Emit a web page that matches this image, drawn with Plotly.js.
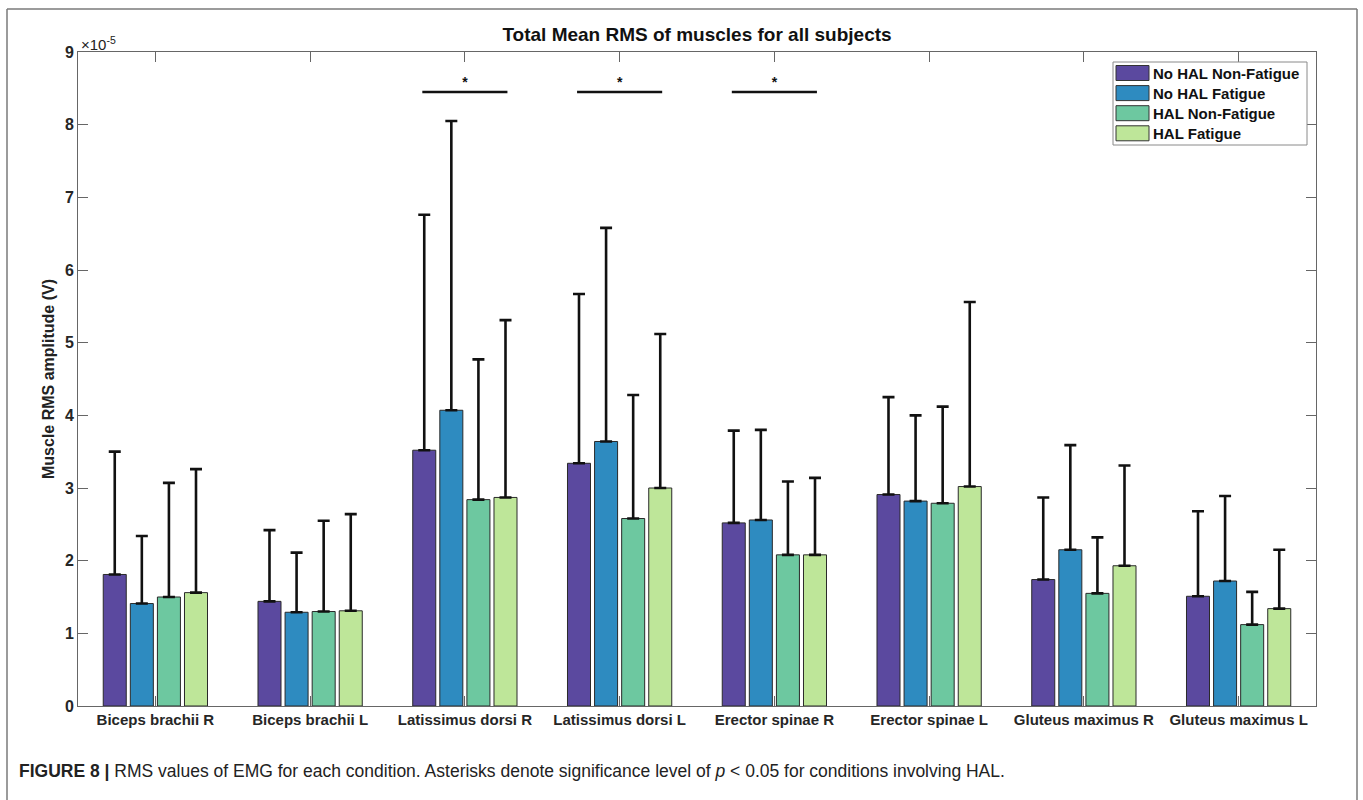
<!DOCTYPE html>
<html>
<head>
<meta charset="utf-8">
<script src="https://cdn.plot.ly/plotly-3.0.1.min.js"></script>
<style>
  html, body { margin: 0; padding: 0; background: #fff; }
  #chart { width: 1363px; height: 800px; }
</style>
</head>
<body>
<div id="chart"></div>
<script>
// ---- Data (values in units of 1e-5 V) ----
const categories = ['Biceps brachii R', 'Biceps brachii L', 'Latissimus dorsi R', 'Latissimus dorsi L',
                    'Erector spinae R', 'Erector spinae L', 'Gluteus maximus R', 'Gluteus maximus L'];
const seriesNames = ['No HAL Non-Fatigue', 'No HAL Fatigue', 'HAL Non-Fatigue', 'HAL Fatigue'];
const seriesColors = ['#5B499F', '#2E8BC0', '#6DC8A0', '#BEE699'];

const noHalNonFatigue    = [1.81, 1.44, 3.52, 3.34, 2.52, 2.91, 1.74, 1.51];
const noHalNonFatigueSD  = [1.69, 0.98, 3.24, 2.33, 1.27, 1.34, 1.13, 1.17];
const noHalFatigue       = [1.41, 1.29, 4.07, 3.64, 2.56, 2.82, 2.15, 1.72];
const noHalFatigueSD     = [0.93, 0.82, 3.98, 2.94, 1.24, 1.18, 1.44, 1.17];
const halNonFatigue      = [1.50, 1.30, 2.84, 2.58, 2.08, 2.79, 1.55, 1.12];
const halNonFatigueSD    = [1.57, 1.25, 1.93, 1.70, 1.01, 1.33, 0.77, 0.45];
const halFatigue         = [1.56, 1.31, 2.87, 3.00, 2.08, 3.02, 1.93, 1.34];
const halFatigueSD       = [1.70, 1.33, 2.44, 2.12, 1.06, 2.54, 1.38, 0.81];

const yTickVals = [0, 1, 2, 3, 4, 5, 6, 7, 8, 9];
const exponentLabel = '×10<sup>-5</sup>';

// significance markers (categories, bar level)
const sigCategories = ['Latissimus dorsi R', 'Latissimus dorsi L', 'Erector spinae R'];
const sigLevel = 8.45;
const sigStarLevel = 8.56;
const sigHalfWidth = 0.275;

// ---- Geometry helpers (pixel -> paper) ----
const W = 1363, H = 800;
const M = { l: 78, r: 47, t: 52, b: 94 };
const PW = W - M.l - M.r, PH = H - M.t - M.b;
const px2x = px => (px - M.l) / PW;
const px2y = py => (H - M.b - py) / PH;

const fontFam = 'Liberation Sans, Arial, Helvetica, sans-serif';
const xPos = categories.map((_, i) => i + 1);

const means = [noHalNonFatigue, noHalFatigue, halNonFatigue, halFatigue];
const sds = [noHalNonFatigueSD, noHalFatigueSD, halNonFatigueSD, halFatigueSD];

const traces = seriesNames.map((name, s) => ({
  type: 'bar',
  name: name,
  x: xPos,
  y: means[s],
  marker: { color: seriesColors[s], line: { color: '#2a2a2a', width: 1 } },
  error_y: {
    type: 'data', symmetric: false,
    array: sds[s], arrayminus: sds[s].map(() => 0),
    color: '#111', thickness: 2.6, width: 6
  },
  showlegend: false,
  hoverinfo: 'x+y'
}));

// significance lines and stars
sigCategories.forEach(c => {
  const xi = categories.indexOf(c) + 1;
  traces.push({
    type: 'scatter', mode: 'lines',
    x: [xi - sigHalfWidth, xi + sigHalfWidth], y: [sigLevel, sigLevel],
    line: { color: '#111', width: 2.4 }, showlegend: false, hoverinfo: 'skip'
  });
  traces.push({
    type: 'scatter', mode: 'text',
    x: [xi], y: [sigStarLevel], text: ['*'],
    textposition: 'middle center',
    textfont: { family: fontFam, size: 14, color: '#111', weight: 'bold' },
    showlegend: false, hoverinfo: 'skip'
  });
});

// custom legend (wide swatches like the original)
const shapes = [];
const annotations = [];
const legBox = { x0: 1113, x1: 1307, y0: 62, y1: 145 };
shapes.push({ type: 'rect', xref: 'paper', yref: 'paper',
  x0: px2x(legBox.x0), x1: px2x(legBox.x1), y0: px2y(legBox.y1), y1: px2y(legBox.y0),
  line: { color: '#8a8a8a', width: 1 }, fillcolor: '#fff', layer: 'above' });
seriesNames.forEach((name, s) => {
  const cy = 73 + s * 20.1;
  shapes.push({ type: 'rect', xref: 'paper', yref: 'paper',
    x0: px2x(1116), x1: px2x(1149), y0: px2y(cy + 7.5), y1: px2y(cy - 7.5),
    fillcolor: seriesColors[s], line: { color: '#333', width: 1 }, layer: 'above' });
  annotations.push({ xref: 'paper', yref: 'paper', x: px2x(1151), y: px2y(cy),
    xanchor: 'left', yanchor: 'middle', showarrow: false, text: name,
    font: { family: fontFam, size: 15, color: '#111', weight: 'bold' } });
});

// outer figure frame
const frameCol = '#7a7a7a';
shapes.push({ type: 'line', xref: 'paper', yref: 'paper', x0: px2x(7), x1: px2x(1357), y0: px2y(9), y1: px2y(9), line: { color: frameCol, width: 1.5 }, layer: 'below' });
shapes.push({ type: 'line', xref: 'paper', yref: 'paper', x0: px2x(7), x1: px2x(7), y0: px2y(9), y1: px2y(802), line: { color: frameCol, width: 1.5 }, layer: 'below' });
shapes.push({ type: 'line', xref: 'paper', yref: 'paper', x0: px2x(1357), x1: px2x(1357), y0: px2y(9), y1: px2y(802), line: { color: frameCol, width: 1.5 }, layer: 'below' });

// exponent label
annotations.push({ xref: 'paper', yref: 'paper', x: px2x(79), y: px2y(44), xanchor: 'left', yanchor: 'middle',
  showarrow: false, text: exponentLabel, font: { family: fontFam, size: 15, color: '#222' } });

// caption
annotations.push({ xref: 'paper', yref: 'paper', x: px2x(17), y: px2y(771), xanchor: 'left', yanchor: 'middle',
  showarrow: false, align: 'left',
  text: '<b>FIGURE 8 |</b> RMS values of EMG for each condition. Asterisks denote significance level of <i>p</i> &lt; 0.05 for conditions involving HAL.',
  font: { family: fontFam, size: 17.5, color: '#222' } });

const layout = {
  width: W, height: H,
  margin: M,
  paper_bgcolor: '#fff', plot_bgcolor: '#fff',
  barmode: 'group', bargap: 0.30, bargroupgap: 0.15,
  font: { family: fontFam, color: '#222' },
  title: {
    text: 'Total Mean RMS of muscles for all subjects',
    x: px2x(697), xref: 'paper', xanchor: 'center',
    y: 1 - 34 / H, yref: 'container', yanchor: 'middle',
    font: { family: fontFam, size: 19, color: '#111', weight: 'bold' }
  },
  xaxis: {
    range: [0.5, 8.5], tickvals: xPos, ticktext: categories,
    showline: true, linecolor: '#666', linewidth: 1, mirror: 'ticks',
    ticks: 'inside', ticklen: 10, tickcolor: '#666', tickwidth: 1,
    showgrid: false, zeroline: false,
    tickfont: { family: fontFam, size: 15, color: '#262626', weight: 'bold' }
  },
  yaxis: {
    range: [0, 9], tickvals: yTickVals, ticktext: yTickVals.map(String),
    showline: true, linecolor: '#666', linewidth: 1, mirror: 'ticks',
    ticks: 'inside', ticklen: 10, tickcolor: '#666', tickwidth: 1,
    showgrid: false, zeroline: false,
    tickfont: { family: fontFam, size: 16, color: '#262626', weight: 'bold' },
    title: { text: 'Muscle RMS amplitude (V)', standoff: 6,
      font: { family: fontFam, size: 16, color: '#222', weight: 'bold' } }
  },
  shapes: shapes,
  annotations: annotations,
  showlegend: false
};

Plotly.newPlot('chart', traces, layout, { displayModeBar: false, staticPlot: true });
</script>
</body>
</html>
